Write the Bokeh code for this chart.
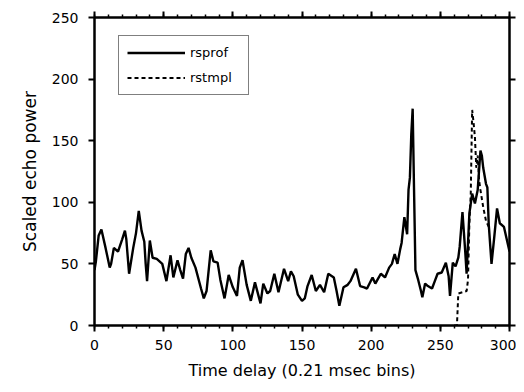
from bokeh.plotting import figure
from bokeh.models import LinearAxis, SingleIntervalTicker, Range1d, Legend
from bokeh.embed import file_html
from bokeh.resources import INLINE

# ---- data ----
rsprof_x = [0, 1, 3, 5, 8, 11, 12, 14, 17, 20, 22, 23, 25, 28, 30, 32, 34, 36, 37, 38,
            40, 42, 45, 49, 52, 55, 57, 60, 62, 64, 66, 68, 70, 73, 77, 79, 81, 84, 86, 89,
            91, 94, 97, 100, 103, 105, 107, 110, 113, 116, 120, 122, 125, 127, 130, 133, 137, 140, 142, 144,
            147, 150, 152, 154, 157, 160, 163, 166, 169, 173, 175, 177, 180, 183, 185, 189, 192, 195, 197, 201,
            203, 205, 207, 210, 213, 215, 217, 219, 221, 222, 224, 226, 227, 228, 229, 230, 231, 232, 234, 236,
            237, 239, 241, 244, 246, 248, 251, 254, 256, 257, 259, 261, 263, 264, 266, 268, 269, 271, 273, 275,
            277, 279, 280, 281, 283, 284, 285, 287, 289, 291, 293, 296, 298, 300]
rsprof_y = [45, 52, 73, 78, 63, 47, 50, 63, 60, 70, 77, 70, 42, 63, 75, 93, 77, 68, 50, 36,
            69, 55, 54, 50, 36, 57, 39, 53, 45, 38, 58, 63, 55, 47, 30, 22, 28, 61, 52, 51,
            37, 22, 41, 31, 24, 47, 53, 33, 20, 35, 18, 34, 26, 28, 42, 27, 46, 36, 44, 40,
            25, 20, 22, 32, 41, 28, 33, 27, 42, 39, 28, 16, 31, 33, 36, 46, 32, 31, 30, 39,
            34, 38, 42, 39, 47, 50, 58, 50, 62, 67, 88, 74, 110, 120, 155, 176, 110, 45, 37, 28,
            23, 34, 32, 30, 36, 42, 43, 51, 40, 24, 51, 48, 55, 64, 92, 60, 42, 91, 107, 99,
            110, 142, 138, 128, 115, 112, 82, 50, 72, 95, 83, 80, 70, 60]

rstmpl_x = [260, 262, 263, 266, 269, 270, 271, 272, 273, 274, 275, 276, 277, 278, 279, 281, 283, 285]
rstmpl_y = [0, 0, 26, 27, 28, 37, 83, 107, 175, 165, 153, 128, 138, 118, 110, 96, 85, 80]

x_tick_interval = 50
y_tick_interval = 50

FONT = "DejaVu Sans"


def style_axis(ax, minor=True, labels=True):
    ax.axis_line_width = 2
    ax.axis_line_color = "black"
    ax.major_tick_in = 0
    ax.major_tick_out = 6
    ax.major_tick_line_width = 2
    ax.major_tick_line_color = "black"
    ax.minor_tick_in = 0
    ax.minor_tick_out = 3
    ax.minor_tick_line_width = 1.5
    ax.minor_tick_line_color = "black" if minor else None
    if labels:
        ax.major_label_text_font = FONT
        ax.major_label_text_font_size = "14px"
        ax.major_label_text_color = "black"
        ax.major_label_standoff = 8
        ax.axis_label_text_font = FONT
        ax.axis_label_text_font_size = "16px"
        ax.axis_label_text_font_style = "normal"
        ax.axis_label_text_color = "black"
    else:
        ax.major_label_text_font_size = "1px"
        ax.major_label_text_color = None
        ax.major_label_standoff = 0


p = figure(width=516, height=384, output_backend="svg", toolbar_location=None,
           x_range=Range1d(0, 300), y_range=Range1d(0, 250),
           min_border_left=94, min_border_top=17, min_border_right=7, min_border_bottom=59)
p.xgrid.visible = False
p.ygrid.visible = False
p.outline_line_color = "black"
p.outline_line_width = 2

l1 = p.line(rsprof_x, rsprof_y, line_color="black", line_width=2.4)
l2 = p.line(rstmpl_x, rstmpl_y, line_color="black", line_width=2.0, line_dash="4 3")

xax = p.xaxis[0]
xax.ticker = SingleIntervalTicker(interval=x_tick_interval, num_minor_ticks=5)
xax.axis_label = "Time delay (0.21 msec bins)"
style_axis(xax)
xax.axis_label_standoff = 8

yax = p.yaxis[0]
yax.ticker = SingleIntervalTicker(interval=y_tick_interval, num_minor_ticks=0)
yax.axis_label = "Scaled echo power"
style_axis(yax, minor=False)
yax.major_label_standoff = 10
yax.axis_label_text_font_size = "17px"
yax.axis_label_standoff = 9

top = LinearAxis(ticker=SingleIntervalTicker(interval=x_tick_interval, num_minor_ticks=5))
style_axis(top, labels=False)
p.add_layout(top, "above")

right = LinearAxis(ticker=SingleIntervalTicker(interval=y_tick_interval, num_minor_ticks=0))
style_axis(right, minor=False, labels=False)
p.add_layout(right, "right")

lg = Legend(items=[("rsprof", [l1]), ("rstmpl", [l2])], location=(24, 230))
lg.label_text_font = FONT
lg.label_text_font_size = "13px"
lg.label_text_color = "black"
lg.border_line_color = "black"
lg.border_line_width = 1.5
lg.background_fill_color = "white"
lg.background_fill_alpha = 1
lg.padding = 8
lg.spacing = 8
lg.glyph_width = 58
lg.glyph_height = 17
lg.label_height = 17
lg.label_width = 50
lg.label_standoff = 5
lg.margin = 0
p.add_layout(lg, "center")

open("out.html", "w").write(file_html(p, INLINE))
